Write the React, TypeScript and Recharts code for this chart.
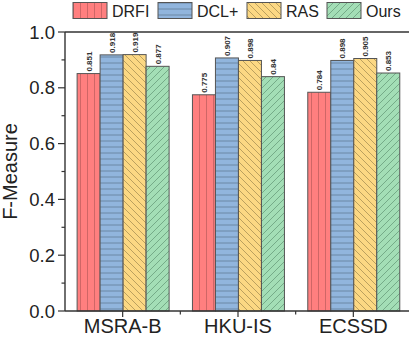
import { Bar, BarChart, ReferenceLine, XAxis, YAxis } from "recharts";

const categories = ["MSRA-B", "HKU-IS", "ECSSD"];
const drfi = [0.851, 0.775, 0.784];
const dcl = [0.918, 0.907, 0.898];
const ras = [0.919, 0.898, 0.905];
const ours = [0.877, 0.84, 0.853];
const yTicks = [0, 0.1, 0.2, 0.3, 0.4, 0.5, 0.6, 0.7, 0.8, 0.9, 1.0];

const FONT = "Arial, 'Liberation Sans', sans-serif";
const AXIS = "#333";
const W = 409;
const H = 341;
const BAND = (W + 2 - 65) / categories.length;

const series = [
  { key: "drfi", name: "DRFI", fill: "#ff7f7f", line: "#c96363", kind: "v" },
  { key: "dcl", name: "DCL+", fill: "#91b5dd", line: "#66829f", kind: "h" },
  { key: "ras", name: "RAS", fill: "#fcd883", line: "#b39a5a", kind: "b" },
  { key: "ours", name: "Ours", fill: "#a3deb6", line: "#6fa582", kind: "f" },
];

const rows = categories.map((name, i) => ({
  name,
  drfi: drfi[i],
  dcl: dcl[i],
  ras: ras[i],
  ours: ours[i],
}));

function Patterns({ prefix }: { prefix: string }) {
  return (
    <defs>
      {series.map((s) => {
        const size = s.kind === "h" ? 6 : 7;
        let path = "";
        if (s.kind === "v") path = `M${size / 2},0 L${size / 2},${size}`;
        if (s.kind === "h") path = `M0,${size / 2} L${size},${size / 2}`;
        if (s.kind === "b") path = `M0,0 L${size},${size} M-1,${size - 1} L1,${size + 1} M${size - 1},-1 L${size + 1},1`;
        if (s.kind === "f") path = `M0,${size} L${size},0 M-1,1 L1,-1 M${size - 1},${size + 1} L${size + 1},${size - 1}`;
        return (
          <pattern key={s.key} id={`${prefix}-${s.key}`} patternUnits="userSpaceOnUse" width={size} height={size}>
            <rect width={size} height={size} fill={s.fill} />
            <path d={path} stroke={s.line} strokeWidth={0.9} />
          </pattern>
        );
      })}
    </defs>
  );
}

function YTick(props: any) {
  const { x, y, index } = props;
  const major = index % 2 === 0;
  return (
    <g>
      <line x1={x} x2={x - (major ? 7 : 3.5)} y1={y} y2={y} stroke={AXIS} strokeWidth={1.2} />
      {major && (
        <text x={x - 10} y={y} dy={6.5} textAnchor="end" fontSize={18.5} fontFamily={FONT} fill="#222">
          {yTicks[index].toFixed(1)}
        </text>
      )}
    </g>
  );
}

function XTick(props: any) {
  const { x, y, payload, index } = props;
  return (
    <g>
      <line x1={x} x2={x} y1={y} y2={y + 6} stroke={AXIS} strokeWidth={1.2} />
      {index < categories.length - 1 && (
        <line x1={x + BAND / 2} x2={x + BAND / 2} y1={y} y2={y + 3.5} stroke={AXIS} strokeWidth={1.2} />
      )}
      <text x={x} y={y} dy={22} textAnchor="middle" fontSize={20} fontFamily={FONT} fill="#222">
        {payload.value}
      </text>
    </g>
  );
}

// bar rectangle plus its rotated value label
function BarWithLabel(props: any) {
  const { x, y, width, height, fill, value } = props;
  const v = Array.isArray(value) ? value[1] : value;
  const cx = x + width / 2 + 3;
  const ty = y - 2;
  return (
    <g>
      <rect x={x} y={y} width={width} height={height} fill={fill} stroke="#555" strokeWidth={1} />
      <text
        x={cx}
        y={ty}
        transform={`rotate(-90, ${cx}, ${ty})`}
        textAnchor="start"
        fontSize={8}
        fontWeight="bold"
        fontFamily={FONT}
        fill="#333"
      >
        {String(v)}
      </text>
    </g>
  );
}

function ChartLegend() {
  const items = [
    { x: 73, tx: 112 },
    { x: 158, tx: 197 },
    { x: 247, tx: 286 },
    { x: 327, tx: 366 },
  ];
  return (
    <svg width={W} height={24} style={{ position: "absolute", left: 0, top: 0 }}>
      <Patterns prefix="lg" />
      {series.map((s, i) => (
        <g key={s.key}>
          <rect x={items[i].x} y={2.5} width={34} height={16} fill={`url(#lg-${s.key})`} stroke="#555" strokeWidth={1} />
          <text x={items[i].tx} y={16.5} fontSize={16} fontFamily={FONT} fill="#222">
            {s.name}
          </text>
        </g>
      ))}
    </svg>
  );
}

export default function App() {
  return (
    <div style={{ position: "absolute", left: 0, top: 0, width: W, height: H, background: "#fff", overflow: "hidden" }}>
      <BarChart
        width={W}
        height={H}
        data={rows}
        margin={{ top: 32, right: -2, bottom: 0, left: 0 }}
        barCategoryGap="10.5%"
        barGap={0}
      >
        <Patterns prefix="bar" />
        <XAxis
          dataKey="name"
          height={30}
          tick={<XTick />}
          tickLine={false}
          tickSize={0}
          tickMargin={0}
          axisLine={{ stroke: AXIS, strokeWidth: 1.4 }}
          interval={0}
        />
        <YAxis
          domain={[0, 1]}
          ticks={yTicks}
          width={65}
          tick={<YTick />}
          tickLine={false}
          tickSize={0}
          tickMargin={0}
          interval={0}
          axisLine={{ stroke: AXIS, strokeWidth: 1.4 }}
          label={{
            value: "F-Measure",
            angle: -90,
            position: "insideLeft",
            offset: 0,
            dx: 10,
            style: { fontSize: 20, fontFamily: FONT, fill: "#222", textAnchor: "middle" },
          }}
        />
        <ReferenceLine y={1} stroke={AXIS} strokeWidth={1.4} />
        {series.map((s) => (
          <Bar
            key={s.key}
            dataKey={s.key}
            name={s.name}
            fill={`url(#bar-${s.key})`}
            isAnimationActive={false}
            shape={<BarWithLabel />}
          />
        ))}
      </BarChart>
      <ChartLegend />
    </div>
  );
}
